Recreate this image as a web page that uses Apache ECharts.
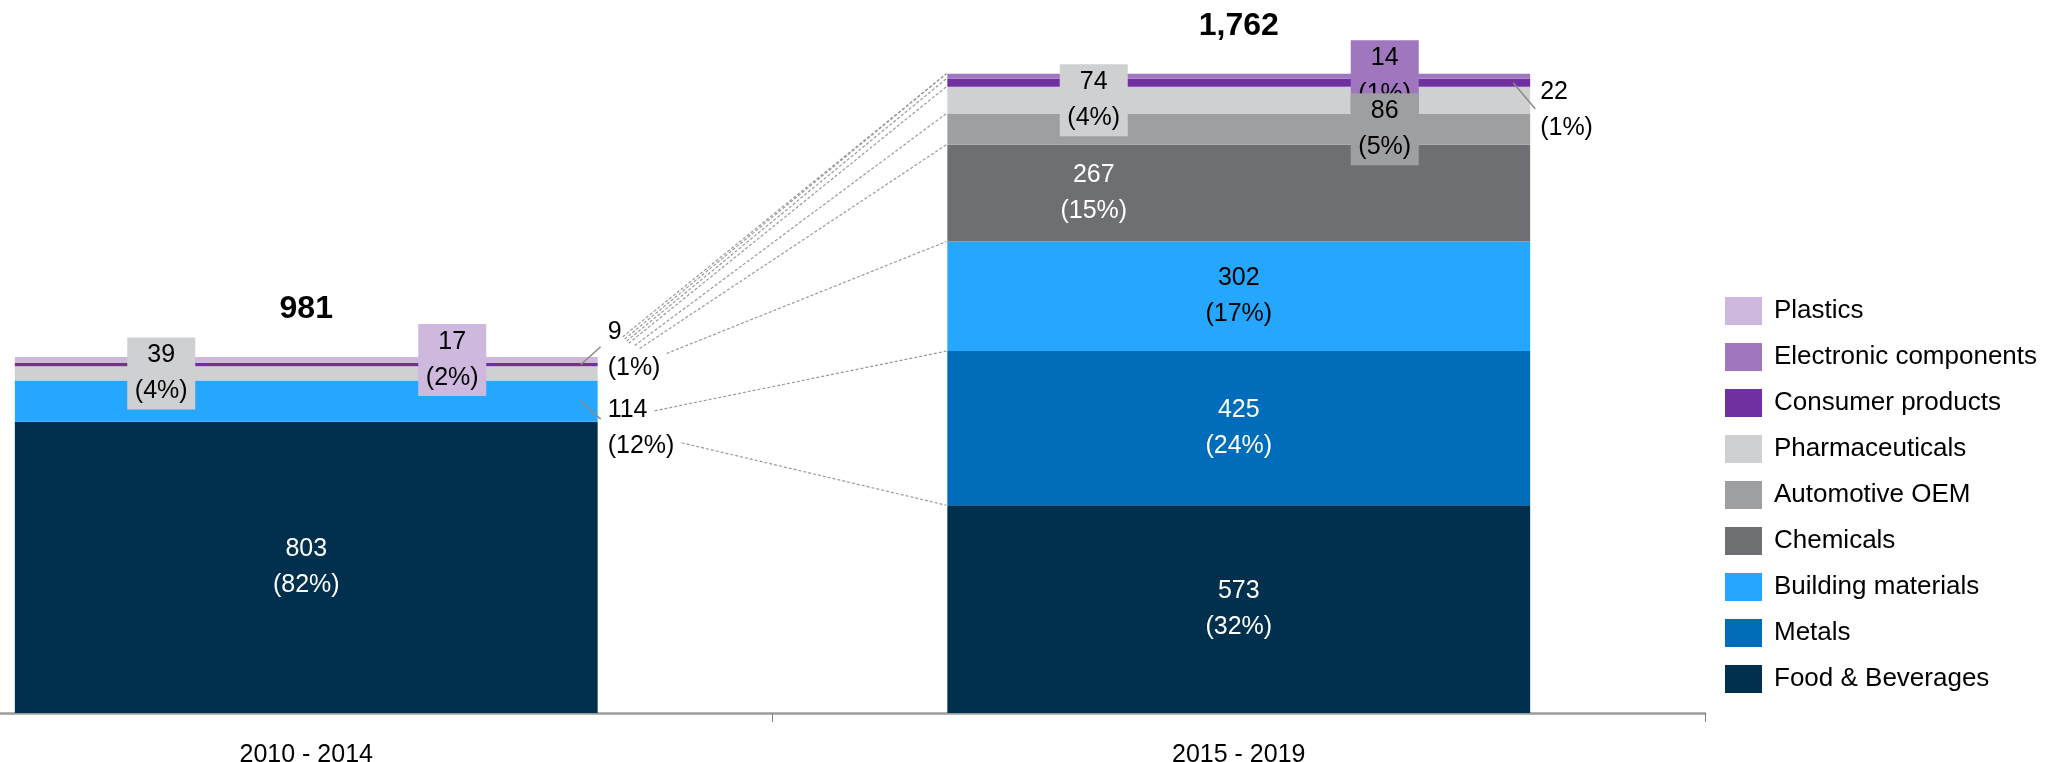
<!DOCTYPE html>
<html>
<head>
<meta charset="utf-8">
<title>Volume by industry</title>
<script src="https://cdn.jsdelivr.net/npm/echarts@6/dist/echarts.min.js"></script>
<style>
  html, body { margin: 0; padding: 0; background: #fff; }
  #main { width: 2065px; height: 762px; }
</style>
</head>
<body>
<div id="main"></div>
<script>
// data
var categories = ['2010 - 2014', '2015 - 2019'];
var totals = [981, 1762];

var foodBev     = [803, 573];
var metals      = [0, 425];
var buildingMat = [114, 302];
var chemicals   = [0, 267];
var automotive  = [0, 86];
var pharma      = [39, 74];
var consumer    = [9, 22];
var electronic  = [0, 14];
var plastics    = [17, 0];

var foodPct       = [82, 32];
var metalsPct     = [0, 24];
var buildingPct   = [12, 17];
var chemicalsPct  = [0, 15];
var automotivePct = [0, 5];
var pharmaPct     = [4, 4];
var consumerPct   = [1, 1];
var electronicPct = [0, 1];
var plasticsPct   = [2, 0];

var names = ['Food & Beverages', 'Metals', 'Building materials', 'Chemicals', 'Automotive OEM',
             'Pharmaceuticals', 'Consumer products', 'Electronic components', 'Plastics'];
var values = [foodBev, metals, buildingMat, chemicals, automotive, pharma, consumer, electronic, plastics];
var pcts = [foodPct, metalsPct, buildingPct, chemicalsPct, automotivePct, pharmaPct, consumerPct, electronicPct, plasticsPct];

// styling
var FONT = 'Liberation Sans, Arial, sans-serif';
var BAR = 0.625;
var colors = ['#01304F', '#006DBA', '#25A7FF', '#6E6F73', '#9E9FA1', '#CFD0D2', '#7030A0', '#A076BF', '#CEB8DE'];
var textCol = ['#fff', '#fff', '#000', '#fff', '#000', '#000', '#000', '#000', '#000'];
// in = centred, shift = moved left, side = outside right, box* = drawn by the boxes series
var placing = [
  ['in', 'in'],
  [null, 'in'],
  ['side', 'in'],
  [null, 'shift'],
  [null, 'boxR'],
  ['boxL', 'boxL'],
  ['side', 'side'],
  [null, 'boxR'],
  ['boxR', null]
];
// boxes drawn in this order, later ones on top: [series, category]
var boxOrder = [[8, 0], [5, 0], [5, 1], [7, 1], [4, 1]];
var sideDy = { 2: [27, 0], 6: [-15, 27] };
var leaderEnd = { 2: [[3, 18], null], 6: [[3, -18], [5, 26]] };
// start of each dashed link, relative to the left bar's right edge at that boundary
var linkStart = [[84, 21], [57, -11], [69, -27], [42, -32], [37, -35], [31, -23], [29, -22], [27, -24], [25, -20]];

function labelText(s, c) {
  return values[s][c] + '\n(' + pcts[s][c] + '%)';
}

function labelFor(s, c) {
  var kind = placing[s][c];
  if (!kind || !values[s][c] || kind.indexOf('box') === 0) return { show: false };
  var lab = {
    show: true,
    formatter: labelText(s, c),
    fontSize: 25, lineHeight: 36, fontFamily: FONT, color: textCol[s],
    position: 'inside'
  };
  if (kind === 'shift') lab.offset = [-145, 0];
  if (kind === 'side') {
    lab.position = 'right';
    lab.distance = 10;
    lab.offset = [0, sideDy[s][c]];
    lab.align = 'left';
  }
  return lab;
}

var series = values.map(function (vals, s) {
  return {
    name: names[s],
    type: 'bar',
    stack: 'all',
    barWidth: (BAR * 100) + '%',
    barGap: '-100%',
    itemStyle: { color: colors[s] },
    data: vals.map(function (v, c) { return { value: v, label: labelFor(s, c) }; })
  };
});

series.push({
  name: 'Total',
  type: 'bar',
  barWidth: (BAR * 100) + '%',
  barGap: '-100%',
  silent: true,
  z: 1,
  itemStyle: { color: 'rgba(0,0,0,0)' },
  label: {
    show: true, position: 'top', distance: 32,
    fontSize: 32, fontWeight: 'bold', fontFamily: FONT, color: '#000',
    formatter: function (p) { return p.value.toLocaleString('en-US'); }
  },
  data: totals
});

// cumulative tops of each layer
var cumLeft = [], cumRight = [];
var accL = 0, accR = 0;
values.forEach(function (v) {
  accL += v[0]; accR += v[1];
  cumLeft.push(accL); cumRight.push(accR);
});
function segMid(s, c) {
  var cum = c === 0 ? cumLeft : cumRight;
  return (s === 0 ? 0 : cum[s - 1]) + values[s][c] / 2;
}

series.push({
  name: 'links',
  type: 'custom',
  silent: true,
  z: 1,
  encode: { x: 0, y: 1 },
  data: cumLeft.map(function (l, k) { return [0, l, cumRight[k]]; }),
  renderItem: function (params, api) {
    var k = params.dataIndex;
    var half = api.size([1, 0])[0] * BAR / 2;
    var a = api.coord([0, api.value(1)]);
    var b = api.coord([1, api.value(2)]);
    return {
      type: 'line',
      shape: { x1: a[0] + half + linkStart[k][0], y1: a[1] + linkStart[k][1], x2: b[0] - half - 1, y2: b[1] },
      style: { stroke: '#9a9a9a', lineWidth: 1.2, lineDash: [3, 2] }
    };
  }
});

var leaderData = [];
Object.keys(leaderEnd).forEach(function (s) {
  leaderEnd[s].forEach(function (end, c) {
    if (end) leaderData.push([c, segMid(+s, c), end[0], end[1]]);
  });
});

series.push({
  name: 'leaders',
  type: 'custom',
  silent: true,
  z: 4,
  encode: { x: 0, y: 1 },
  data: leaderData,
  renderItem: function (params, api) {
    var half = api.size([1, 0])[0] * BAR / 2;
    var p = api.coord([api.value(0), api.value(1)]);
    var edge = p[0] + half;
    return {
      type: 'line',
      shape: { x1: edge - 17, y1: p[1], x2: edge + api.value(2), y2: p[1] + api.value(3) },
      style: { stroke: '#8a8a8a', lineWidth: 1.5 }
    };
  }
});

series.push({
  name: 'boxes',
  type: 'custom',
  silent: true,
  z: 5,
  encode: { x: 0, y: 1 },
  data: boxOrder.map(function (b) { return [b[1], segMid(b[0], b[1]), b[0]]; }),
  renderItem: function (params, api) {
    var c = api.value(0), s = api.value(2);
    var p = api.coord([c, api.value(1)]);
    var dx = placing[s][c] === 'boxL' ? -145 : 146;
    return {
      type: 'text',
      x: p[0] + dx,
      y: p[1],
      style: {
        text: labelText(s, c),
        font: '25px ' + FONT,
        lineHeight: 36,
        fill: '#000',
        align: 'center',
        verticalAlign: 'middle',
        backgroundColor: colors[s],
        padding: [0, 8],
        width: 52
      }
    };
  }
});

var myChart = echarts.init(document.getElementById('main'));

var option = {
  animation: false,
  grid: { left: -160, right: 360, top: 20, bottom: 49, containLabel: false, outerBoundsMode: 'none' },
  legend: {
    orient: 'vertical',
    left: 1725,
    top: 297,
    padding: 0,
    itemWidth: 37,
    itemHeight: 28,
    itemGap: 18,
    icon: 'rect',
    selectedMode: false,
    textStyle: { fontSize: 26, fontFamily: FONT, color: '#000', lineHeight: 28, padding: [0, 0, 0, 7] },
    data: names.slice().reverse()
  },
  xAxis: {
    type: 'category',
    data: categories,
    axisLine: { lineStyle: { color: '#9c9c9c', width: 2.5 } },
    axisTick: { show: true, length: 9, lineStyle: { color: '#808080', width: 1 } },
    axisLabel: { fontSize: 25, fontFamily: FONT, color: '#000', margin: 30 }
  },
  yAxis: { type: 'value', min: 0, max: 1911, show: false, splitLine: { show: false } },
  series: series
};

myChart.setOption(option);
</script>
</body>
</html>
